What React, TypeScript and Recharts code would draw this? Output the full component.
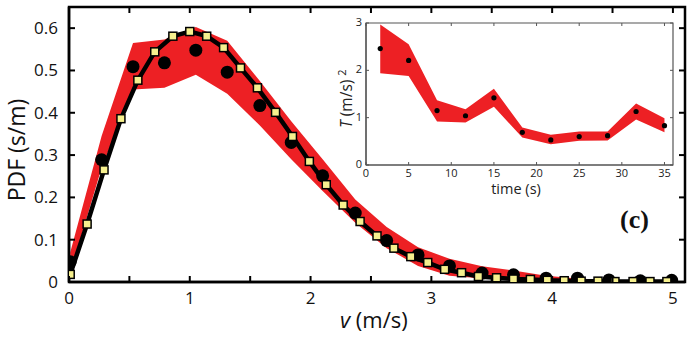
import React from "react";
import {
  ComposedChart,
  Area,
  Line,
  Scatter,
  XAxis,
  YAxis,
  ReferenceArea,
} from "recharts";

// main panel: measured PDF (circles), model (squares + line), spread (red band)
const CIRCLE_V = [0.01, 0.27, 0.53, 0.79, 1.05, 1.31, 1.58, 1.84, 2.1, 2.37, 2.63, 2.89, 3.15, 3.42, 3.68, 3.95, 4.21, 4.47, 4.73, 4.99];
const CIRCLE_PDF = [0.048, 0.289, 0.509, 0.518, 0.548, 0.496, 0.417, 0.33, 0.251, 0.163, 0.098, 0.064, 0.038, 0.021, 0.017, 0.009, 0.009, 0.005, 0.003, 0.004];
const BAND_LOW = [0.02, 0.27, 0.455, 0.459, 0.49, 0.445, 0.37, 0.29, 0.215, 0.14, 0.08, 0.038, 0.015, 0.008, 0.005, 0.003, 0.002, 0.001, 0.001, 0.001];
const BAND_HIGH = [0.07, 0.345, 0.565, 0.573, 0.603, 0.57, 0.475, 0.38, 0.29, 0.195, 0.13, 0.082, 0.055, 0.037, 0.027, 0.015, 0.008, 0.005, 0.004, 0.003];

const SQUARE_V = [0.01, 0.15, 0.29, 0.43, 0.57, 0.71, 0.86, 1.0, 1.14, 1.28, 1.42, 1.56, 1.71, 1.85, 1.99, 2.13, 2.27, 2.41, 2.55, 2.69, 2.83, 2.97, 3.11, 3.25, 3.39, 3.54, 3.68, 3.82, 3.96, 4.1, 4.24, 4.38, 4.52, 4.67, 4.81, 4.95];
const SQUARE_PDF = [0.018, 0.137, 0.265, 0.386, 0.477, 0.544, 0.581, 0.592, 0.581, 0.554, 0.506, 0.459, 0.401, 0.344, 0.285, 0.23, 0.182, 0.143, 0.109, 0.08, 0.06, 0.046, 0.03, 0.022, 0.013, 0.01, 0.007, 0.006, 0.004, 0.003, 0.002, 0.002, 0.001, 0.001, 0.001, 0.001];

const X_TICKS = [0, 0.5, 1, 1.5, 2, 2.5, 3, 3.5, 4, 4.5, 5];
const Y_TICKS = [0, 0.1, 0.2, 0.3, 0.4, 0.5, 0.6];

// inset: temperature over time
const TIME_S = [1.67, 5, 8.33, 11.67, 15, 18.33, 21.67, 25, 28.33, 31.67, 35];
const TEMP_MEAN = [2.46, 2.21, 1.15, 1.04, 1.42, 0.69, 0.53, 0.6, 0.62, 1.13, 0.83];
const TEMP_LOW = [1.94, 1.88, 0.92, 0.9, 1.23, 0.58, 0.44, 0.51, 0.52, 0.96, 0.69];
const TEMP_HIGH = [2.97, 2.55, 1.37, 1.18, 1.61, 0.79, 0.64, 0.71, 0.71, 1.3, 0.99];

const INSET_X_TICKS = [0, 5, 10, 15, 20, 25, 30, 35];
const INSET_Y_TICKS = [0, 1, 2, 3];

const RED = "#ED2024";
const YELLOW = "#F6F08E";
const FONT = "'Open Sans', sans-serif";

const MAIN = { left: 69, right: 685, top: 7, bottom: 282 };
const INSET = { left: 366, right: 673, top: 23, bottom: 165 };

const bandData = CIRCLE_V.map((v, i) => ({
  v,
  pdf: CIRCLE_PDF[i],
  lo: BAND_LOW[i],
  hi: BAND_HIGH[i],
}));
const squareData = SQUARE_V.map((v, i) => ({ v, pdf: SQUARE_PDF[i] }));
const tempData = TIME_S.map((t, i) => ({
  t,
  mean: TEMP_MEAN[i],
  lo: TEMP_LOW[i],
  hi: TEMP_HIGH[i],
}));

function MainXTick({ x, payload }: any) {
  const v = payload.value;
  const isInt = Math.abs(v - Math.round(v)) < 1e-6;
  return (
    <g>
      <line x1={x} x2={x} y1={MAIN.bottom} y2={MAIN.bottom - 6} stroke="#000" strokeWidth={2} />
      <line x1={x} x2={x} y1={MAIN.top} y2={MAIN.top + 6} stroke="#000" strokeWidth={2} />
      {isInt && (
        <text x={x} y={304} textAnchor="middle" fontFamily={FONT} fontSize={17} fill="#111">
          {v}
        </text>
      )}
    </g>
  );
}

function MainYTick({ y, payload }: any) {
  const v = payload.value;
  return (
    <g>
      <line x1={MAIN.left} x2={MAIN.left + 6} y1={y} y2={y} stroke="#000" strokeWidth={2} />
      <line x1={MAIN.right} x2={MAIN.right - 6} y1={y} y2={y} stroke="#000" strokeWidth={2} />
      <text x={58} y={y + 6} textAnchor="end" fontFamily={FONT} fontSize={17} fill="#111">
        {v === 0 ? "0" : v.toFixed(1)}
      </text>
    </g>
  );
}

function InsetXTick({ x, payload }: any) {
  return (
    <g>
      <line x1={x} x2={x} y1={INSET.bottom} y2={INSET.bottom - 3} stroke="#555" />
      <line x1={x} x2={x} y1={INSET.top} y2={INSET.top + 3} stroke="#555" />
      <text x={x} y={177} textAnchor="middle" fontFamily={FONT} fontSize={11} fill="#222">
        {payload.value}
      </text>
    </g>
  );
}

function InsetYTick({ y, payload }: any) {
  return (
    <g>
      <line x1={INSET.left} x2={INSET.left + 3} y1={y} y2={y} stroke="#555" />
      <line x1={INSET.right} x2={INSET.right - 3} y1={y} y2={y} stroke="#555" />
      <text x={362} y={y + 3} textAnchor="end" fontFamily={FONT} fontSize={11} fill="#222">
        {payload.value}
      </text>
    </g>
  );
}

function SquareDot({ cx, cy }: any) {
  if (cx == null || cy == null) return null;
  return <rect x={cx - 4} y={cy - 4} width={8} height={8} fill={YELLOW} stroke="#000" strokeWidth={1.5} />;
}

function MainChart() {
  return (
    <ComposedChart
      width={700}
      height={350}
      data={bandData}
      margin={{ top: MAIN.top, right: 700 - MAIN.right, bottom: 350 - MAIN.bottom - 30, left: MAIN.left - 40 }}
    >
      <XAxis
        type="number"
        dataKey="v"
        domain={[0, 5.1]}
        ticks={X_TICKS}
        height={30}
        tick={<MainXTick />}
        tickLine={false}
        axisLine={{ stroke: "#000", strokeWidth: 2.5 }}
        allowDataOverflow
        label={{
          content: () => (
            <text x={340} y={328} fontFamily={FONT} fontSize={22} fill="#111">
              <tspan fontStyle="italic">v</tspan> (m/s)
            </text>
          ),
        }}
      />
      <YAxis
        type="number"
        domain={[0, 0.65]}
        ticks={Y_TICKS}
        width={40}
        tick={<MainYTick />}
        tickLine={false}
        axisLine={{ stroke: "#000", strokeWidth: 2.5 }}
        allowDataOverflow
        label={{
          content: () => (
            <text
              transform="translate(25,150) rotate(-90)"
              textAnchor="middle"
              fontFamily={FONT}
              fontSize={23}
              fill="#111"
            >
              PDF (s/m)
            </text>
          ),
        }}
      />
      <ReferenceArea
        x1={0}
        x2={5.1}
        y1={0}
        y2={0.65}
        fill="none"
        stroke="#000"
        strokeWidth={2.5}
      />
      <Area
        type="linear"
        dataKey={(d: any) => [d.lo, d.hi]}
        fill={RED}
        fillOpacity={1}
        stroke="none"
        isAnimationActive={false}
      />
      <Scatter
        data={bandData}
        dataKey="pdf"
        isAnimationActive={false}
        shape={(p: any) => <circle cx={p.cx} cy={p.cy} r={6.5} fill="#000" />}
      />
      <Line
        data={squareData}
        dataKey="pdf"
        type="linear"
        stroke="#000"
        strokeWidth={4.5}
        dot={<SquareDot />}
        activeDot={false}
        isAnimationActive={false}
      />
    </ComposedChart>
  );
}

function InsetChart() {
  return (
    <ComposedChart
      width={700}
      height={350}
      data={tempData}
      margin={{ top: INSET.top, right: 700 - INSET.right, bottom: 350 - INSET.bottom - 20, left: INSET.left - 20 }}
    >
      <XAxis
        type="number"
        dataKey="t"
        domain={[0, 36]}
        ticks={INSET_X_TICKS}
        height={20}
        tick={<InsetXTick />}
        tickLine={false}
        axisLine={{ stroke: "#555", strokeWidth: 1.2 }}
        allowDataOverflow
        label={{
          content: () => (
            <text x={516} y={194} textAnchor="middle" fontFamily={FONT} fontSize={14.5} fill="#222">
              time (s)
            </text>
          ),
        }}
      />
      <YAxis
        type="number"
        domain={[0, 3]}
        ticks={INSET_Y_TICKS}
        width={20}
        tick={<InsetYTick />}
        tickLine={false}
        axisLine={{ stroke: "#555", strokeWidth: 1.2 }}
        allowDataOverflow
        label={{
          content: () => (
            <text transform="translate(352,128) rotate(-90)" fontFamily={FONT} fontSize={15.5} fill="#222">
              <tspan fontStyle="italic">T</tspan> (m/s)
              <tspan dx={4} dy={-6} fontSize={11}>2</tspan>
            </text>
          ),
        }}
      />
      <ReferenceArea x1={0} x2={36} y1={0} y2={3} fill="none" stroke="#555" strokeWidth={1.2} />
      <Area
        type="linear"
        dataKey={(d: any) => [d.lo, d.hi]}
        fill={RED}
        fillOpacity={1}
        stroke="none"
        isAnimationActive={false}
      />
      <Scatter
        data={tempData}
        dataKey="mean"
        isAnimationActive={false}
        shape={(p: any) => <circle cx={p.cx} cy={p.cy} r={2.6} fill="#000" />}
      />
    </ComposedChart>
  );
}

export default function App() {
  return (
    <div style={{ position: "absolute", left: 0, top: 0, width: 700, height: 350, background: "#fff" }}>
      <div style={{ position: "absolute", left: 0, top: 0 }}>
        <MainChart />
      </div>
      <div style={{ position: "absolute", left: 0, top: 0 }}>
        <InsetChart />
      </div>
      <svg width={700} height={350} style={{ position: "absolute", left: 0, top: 0, pointerEvents: "none" }}>
        <text x={620} y={228} fontFamily="'Liberation Serif', 'Times New Roman', serif" fontWeight="bold" fontSize={26} fill="#111">
          (c)
        </text>
      </svg>
    </div>
  );
}
